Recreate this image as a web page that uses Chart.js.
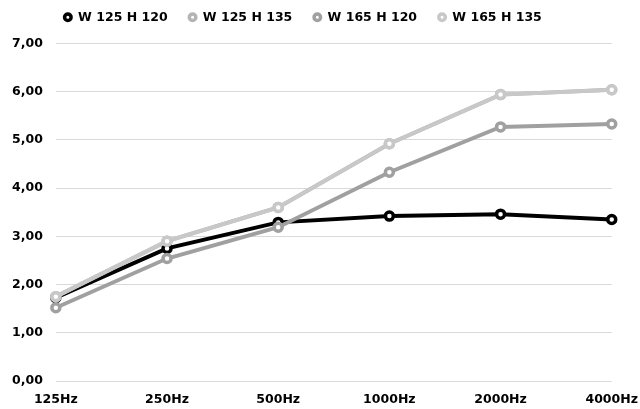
<!DOCTYPE html>
<html>
<head>
<meta charset="utf-8">
<script src="https://cdn.jsdelivr.net/npm/chart.js@4"></script>
<style>
  html, body { margin: 0; padding: 0; background: #fff; }
  #wrap { width: 640px; height: 409px; }
</style>
</head>
<body>
<div id="wrap"><canvas id="chart"></canvas></div>
<script>
const categories = ['125Hz', '250Hz', '500Hz', '1000Hz', '2000Hz', '4000Hz']
const seriesNames = ['W 125 H 120', 'W 125 H 135', 'W 165 H 120', 'W 165 H 135']
const w125h120 = [1.73, 2.75, 3.29, 3.42, 3.46, 3.35]
const w125h135 = [1.75, 2.90, 3.60, 4.92, 5.94, 6.04]
const w165h120 = [1.52, 2.54, 3.19, 4.33, 5.27, 5.33]
const w165h135 = [1.75, 2.90, 3.60, 4.92, 5.94, 6.04]
const seriesColors = ['#000000', '#b4b4b4', '#a0a0a0', '#c8c8c8']

const FONT = { family: 'DejaVu Sans', size: 12.5, weight: 'bold' }

const values = [w125h120, w125h135, w165h120, w165h135]
const datasets = values.map((data, i) => ({
  label: seriesNames[i],
  data,
  borderColor: seriesColors[i],
  backgroundColor: '#ffffff',
  borderWidth: 4,
  pointRadius: 4,
  pointBorderWidth: 3.5,
  pointBackgroundColor: '#ffffff',
  pointBorderColor: seriesColors[i],
  tension: 0,
  order: values.length - i   // later series drawn on top
}))

// legend: start just right of the plot's left edge, and sit a bit higher
const legendShift = {
  id: 'legendShift',
  afterLayout(chart) {
    const pad = chart.legend.options.labels.padding
    chart.legend.left = chart.chartArea.left + 8 - pad
    chart.legend.top -= 10
  }
}

new Chart(document.getElementById('chart').getContext('2d'), {
  type: 'line',
  data: { labels: categories, datasets },
  plugins: [legendShift],
  options: {
    responsive: true,
    maintainAspectRatio: false,
    animation: false,
    layout: { autoPadding: false, padding: { left: -1, right: 0, top: 0, bottom: -9 } },
    scales: {
      x: {
        offset: false,
        grid: { display: false, drawTicks: false },
        border: { display: false },
        ticks: { color: '#000', font: FONT, padding: 11, maxRotation: 0 },
        // last label may hang a little closer to the edge
        afterFit: scale => { scale.paddingRight -= 9 }
      },
      y: {
        min: 0, max: 7,
        grid: { color: '#d9d9d9', lineWidth: 1, drawTicks: false },
        border: { display: false },
        ticks: {
          stepSize: 1,
          color: '#000',
          font: FONT,
          padding: 13,
          callback: v => v.toFixed(2).replace('.', ',')
        }
      }
    },
    plugins: {
      legend: {
        position: 'top',
        align: 'start',
        fullSize: false,
        labels: {
          usePointStyle: true,
          pointStyle: 'circle',
          boxWidth: 8,
          boxHeight: 4.6,
          padding: 21,
          color: '#000',
          font: FONT,
          sort: (a, b) => a.datasetIndex - b.datasetIndex
        }
      },
      tooltip: { enabled: false }
    }
  }
})
</script>
</body>
</html>
